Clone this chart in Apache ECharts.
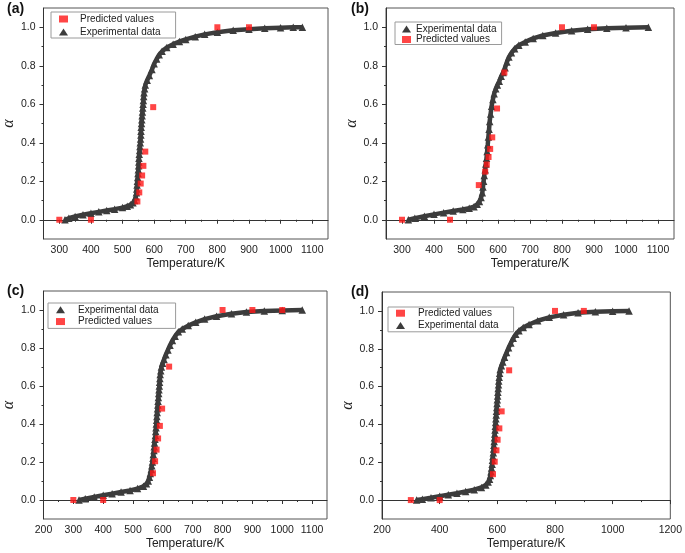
<!DOCTYPE html>
<html><head><meta charset="utf-8">
<script src="https://cdn.jsdelivr.net/npm/echarts@6/dist/echarts.min.js"></script>
<style>html,body{margin:0;padding:0;background:#fff}#c{width:685px;height:553px}</style>
</head><body><div id="c"></div>
<script>
// ---- data (Temperature/K, alpha) ----
const expA = [[318,0],[330,0.008],[350,0.017],[375,0.026],[400,0.034],[425,0.041],[450,0.048],[475,0.055],[500,0.063],[515,0.07],[525,0.078],[533,0.088],[538,0.1],[542,0.12],[544,0.14],[545,0.16],[546,0.18],[547,0.2],[548,0.22],[549,0.24],[550,0.26],[551,0.28],[551.5,0.3],[552,0.32],[553,0.34],[554,0.36],[555,0.38],[556,0.4],[557,0.42],[558,0.44],[558.5,0.46],[559,0.48],[560,0.5],[561,0.52],[562,0.54],[563,0.56],[564,0.58],[565,0.6],[566,0.62],[567,0.64],[568,0.66],[570,0.68],[572,0.7],[578,0.725],[585,0.75],[593,0.78],[600,0.81],[608,0.835],[616,0.857],[625,0.875],[640,0.895],[660,0.912],[680,0.926],[700,0.937],[730,0.951],[760,0.963],[800,0.974],[850,0.984],[900,0.99],[950,0.995],[1000,0.998],[1040,1.0],[1069,1.0]];
const predA = [[300,0],[400,0],[547,0.095],[553,0.142],[557.5,0.188],[562,0.23],[566,0.28],[572,0.354],[597,0.585],[800,1.0],[900,1.0]];

const expB = [[320,0],[340,0.008],[370,0.018],[400,0.028],[430,0.036],[460,0.045],[490,0.053],[510,0.06],[525,0.068],[535,0.08],[542,0.095],[547,0.115],[551,0.14],[553,0.17],[555,0.2],[557,0.23],[560,0.26],[562,0.29],[564,0.32],[566,0.355],[568,0.39],[570,0.43],[572,0.47],[574,0.51],[577,0.55],[580,0.59],[584,0.625],[588,0.655],[593,0.68],[598,0.7],[604,0.72],[610,0.745],[616,0.765],[622,0.79],[628,0.82],[634,0.845],[642,0.867],[652,0.888],[665,0.906],[685,0.924],[710,0.942],[740,0.957],[780,0.97],[830,0.982],[880,0.99],[940,0.995],[1000,0.998],[1070,1.0]];
const predB = [[300,0],[450,0],[540,0.18],[560,0.25],[565,0.287],[570.5,0.326],[575.5,0.368],[582,0.428],[597,0.578],[620,0.765],[800,1.0],[900,1.0]];

const expC = [[319,0],[340,0.007],[370,0.016],[400,0.025],[430,0.033],[460,0.042],[490,0.05],[515,0.06],[535,0.072],[545,0.085],[551,0.1],[555,0.12],[558,0.14],[561,0.16],[563,0.18],[565,0.2],[567,0.22],[568,0.24],[570,0.26],[571,0.28],[572,0.3],[573.5,0.32],[575,0.34],[576,0.36],[577,0.38],[578,0.4],[579,0.42],[580,0.44],[581,0.46],[582,0.48],[583,0.5],[584,0.52],[585,0.54],[586,0.56],[587,0.58],[588,0.6],[589,0.62],[590,0.64],[591,0.66],[593,0.68],[595,0.7],[599,0.72],[604,0.74],[610,0.765],[617,0.79],[624,0.815],[632,0.84],[641,0.862],[652,0.885],[665,0.9],[685,0.918],[710,0.935],[740,0.952],[780,0.967],[830,0.98],[880,0.99],[940,0.995],[1000,0.998],[1067,1.0]];
const predC = [[300,0],[400,0],[567,0.141],[574,0.204],[579,0.265],[584,0.324],[590,0.39],[597.5,0.481],[621,0.702],[800,1.0],[900,1.0],[1000,1.0]];

const expD = [[320,0],[340,0.005],[370,0.012],[400,0.02],[430,0.028],[460,0.036],[490,0.045],[520,0.055],[545,0.067],[560,0.08],[568,0.095],[573,0.11],[576,0.13],[578,0.15],[580,0.17],[582,0.19],[583,0.21],[584.5,0.23],[586,0.25],[587,0.27],[588,0.29],[589,0.31],[590,0.33],[591,0.35],[592,0.37],[593,0.39],[594,0.41],[595,0.43],[596,0.45],[597,0.47],[598,0.49],[599,0.51],[600,0.53],[601,0.55],[602,0.57],[603,0.59],[604,0.61],[605,0.63],[606.5,0.65],[608,0.67],[610,0.69],[614,0.71],[619,0.73],[625,0.755],[632,0.78],[639,0.805],[647,0.83],[655,0.855],[664,0.877],[675,0.895],[690,0.912],[710,0.928],[740,0.948],[780,0.966],[830,0.98],[880,0.99],[940,0.995],[1000,0.998],[1057,1.0]];
const predD = [[300,0],[400,0],[585,0.137],[591,0.203],[597,0.263],[601,0.319],[607,0.379],[615,0.469],[641,0.686],[800,1.0],[900,1.0]];

// ---- tick labels ----
const xMajorAB = [300,400,500,600,700,800,900,1000,1100];
const xMinorAB = [350,450,550,650,750,850,950,1050];
const xMajorC = [200,300,400,500,600,700,800,900,1000,1100];
const xMinorC = [250,350,450,550,650,750,850,950,1050];
const xMajorD = [200,400,600,800,1000,1200];
const xMinorD = [300,500,700,900,1100];
const yMajor = [0.0,0.2,0.4,0.6,0.8,1.0];
const yMinor = [0.1,0.3,0.5,0.7,0.9];

const EXP = 'Experimental data', PRED = 'Predicted values';
const FONT = '"Liberation Sans", Arial, Helvetica, sans-serif';

const panels = [
  {label:'(a)', lpos:{left:7,top:2}, grid:{left:40,top:8,width:288,height:231}, xMin:250, xMax:1150, xMajor:xMajorAB, xMinor:xMinorAB, exp:expA, pred:predA,
   legend:{left:51, top:12, order:[PRED,EXP], padding:[1,15,0,8], textPad:7, lineHeight:12, itemGap:1}},
  {label:'(b)', lpos:{left:351,top:2}, grid:{left:386,top:8,width:288,height:231}, xMin:250, xMax:1150, xMajor:xMajorAB, xMinor:xMinorAB, exp:expB, pred:predB,
   legend:{left:395, top:22, order:[EXP,PRED], padding:[2,5,0,7], textPad:0, lineHeight:10, itemGap:0.5}},
  {label:'(c)', lpos:{left:7,top:284}, grid:{left:40,top:291,width:287,height:228}, xMin:200, xMax:1150, xMajor:xMajorC, xMinor:xMinorC, exp:expC, pred:predC,
   legend:{left:48, top:303, order:[EXP,PRED], padding:[1,17,1,8], textPad:8, lineHeight:11.7, itemGap:0}},
  {label:'(d)', lpos:{left:351,top:285}, grid:{left:382,top:292,width:291,height:227}, xMin:200, xMax:1200, xMajor:xMajorD, xMinor:xMinorD, exp:expD, pred:predD,
   legend:{left:388, top:307, order:[PRED,EXP], padding:[0,15,0,8], textPad:8, lineHeight:12.4, itemGap:0}}
];

const option = {animation:false, backgroundColor:'#fff', title:[], grid:[], xAxis:[], yAxis:[], legend:[], series:[]};
panels.forEach((p,i)=>{
  option.title.push({text:p.label, left:p.lpos.left, top:p.lpos.top, padding:0, textStyle:{fontFamily:FONT, fontWeight:'bold', fontSize:14, color:'#111'}});
  option.grid.push(Object.assign({show:true, borderColor:'#555', borderWidth:1, backgroundColor:'transparent'}, p.grid));
  const axLine = {show:true, lineStyle:{color:'#333', width:1}};
  option.xAxis.push({type:'value', gridIndex:i, min:p.xMin, max:p.xMax, position:'bottom',
    axisLine:axLine, splitLine:{show:false},
    axisTick:{show:true, length:4, lineStyle:{color:'#333'}, customValues:p.xMajor},
    axisLabel:{customValues:p.xMajor, formatter:v=>String(v), fontFamily:FONT, fontSize:10.5, color:'#222', margin:6},
    name:'Temperature/K', nameLocation:'middle', nameGap:19, nameTextStyle:{fontFamily:FONT, fontSize:12, color:'#222'}});
  option.xAxis.push({type:'value', gridIndex:i, min:p.xMin, max:p.xMax, position:'bottom',
    axisLine:{show:false}, splitLine:{show:false}, axisLabel:{show:false},
    axisTick:{show:true, length:2, lineStyle:{color:'#333'}, customValues:p.xMinor}});
  option.yAxis.push({type:'value', gridIndex:i, min:-0.1, max:1.1, position:'left',
    axisLine:axLine, splitLine:{show:false},
    axisTick:{show:true, length:4, lineStyle:{color:'#333'}, customValues:yMajor},
    axisLabel:{customValues:yMajor, formatter:v=>v.toFixed(1), fontFamily:FONT, fontSize:10.5, color:'#222', margin:8},
    name:'α', nameLocation:'middle', nameGap:22, nameRotate:90,
    nameTextStyle:{fontFamily:'"Liberation Serif", "Times New Roman", serif', fontStyle:'italic', fontSize:16, color:'#222'}});
  option.yAxis.push({type:'value', gridIndex:i, min:-0.1, max:1.1, position:'left',
    axisLine:{show:false}, splitLine:{show:false}, axisLabel:{show:false},
    axisTick:{show:true, length:2, lineStyle:{color:'#333'}, customValues:yMinor}});
  const L = p.legend;
  option.legend.push({orient:'vertical', left:L.left, top:L.top, padding:L.padding, itemGap:L.itemGap,
    itemWidth:9, itemHeight:7, selectedMode:false, borderColor:'#9a9a9a', borderWidth:1, borderRadius:0,
    textStyle:{fontFamily:FONT, fontSize:10, color:'#222', lineHeight:L.lineHeight, padding:[0,0,0,L.textPad]},
    data:L.order.map(n=>({name:n, icon: n===EXP ? 'triangle' : 'rect'}))});
  const expSeries = {name:EXP, type:'line', xAxisIndex:2*i, yAxisIndex:2*i, data:p.exp,
    symbol:'triangle', symbolSize:7.5, showSymbol:true, showAllSymbol:true,
    itemStyle:{color:'#3c3c3c'}, lineStyle:{color:'#3c3c3c', width:4.5}, z:2, silent:true};
  const predSeries = {name:PRED, type:'scatter', xAxisIndex:2*i, yAxisIndex:2*i, data:p.pred,
    symbol:'rect', symbolSize:6, itemStyle:{color:'#ff1616'}, z:3, silent:true};
  option.series.push(expSeries, predSeries);
});

const chart = echarts.init(document.getElementById('c'), null, {renderer:'canvas'});
chart.setOption(option);
</script>
</body></html>
